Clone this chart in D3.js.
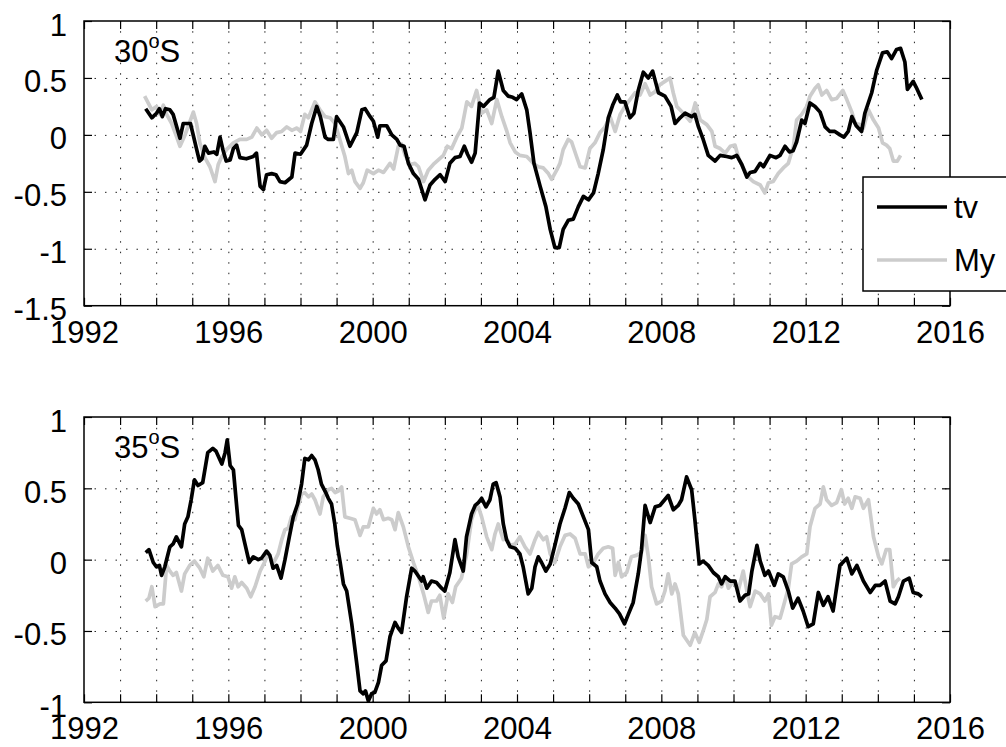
<!DOCTYPE html>
<meta charset="utf-8">
<style>
body { margin: 0; background: #fff; }
svg { font-family: "Liberation Sans", Arial, sans-serif; }
.grid line { stroke: #222; stroke-width: 1; stroke-dasharray: 1.5,9; }
.grid path { display: none; }
.axis path { display: none; }
.axis line { stroke: #000; stroke-width: 1.2; }
.axis text { font-size: 31px; fill: #000; }
.frame { fill: none; stroke: #000; stroke-width: 1.5; }
.tv { fill: none; stroke: #000; stroke-width: 3.7; stroke-linejoin: round; }
.my { fill: none; stroke: #cccccc; stroke-width: 3.7; stroke-linejoin: round; }
</style>
<body>
<svg width="1006" height="747"></svg>
<script src="https://d3js.org/d3.v7.min.js"></script>
<script>

// 30S panel
var tv30Years = [1993.71,1993.88,1994.01,1994.09,1994.17,1994.26,1994.38,1994.47,1994.66,1994.75,1994.95,1995.20,1995.27,1995.35,1995.45,1995.60,1995.68,1995.77,1995.85,1995.94,1996.05,1996.14,1996.23,1996.32,1996.50,1996.69,1996.78,1996.88,1996.97,1997.06,1997.20,1997.32,1997.43,1997.57,1997.76,1997.85,1998.00,1998.17,1998.31,1998.45,1998.55,1998.68,1998.77,1998.91,1999.00,1999.19,1999.37,1999.56,1999.70,1999.79,1999.93,2000.02,2000.14,2000.20,2000.39,2000.53,2000.67,2000.76,2000.87,2000.99,2001.13,2001.27,2001.45,2001.59,2001.73,2001.87,2002.01,2002.14,2002.28,2002.42,2002.54,2002.63,2002.74,2002.84,2002.96,2003.07,2003.25,2003.36,2003.48,2003.62,2003.76,2003.88,2003.99,2004.13,2004.27,2004.36,2004.47,2004.64,2004.80,2004.92,2005.05,2005.17,2005.28,2005.42,2005.56,2005.70,2005.84,2005.98,2006.12,2006.25,2006.39,2006.53,2006.65,2006.78,2006.87,2006.99,2007.13,2007.24,2007.36,2007.50,2007.64,2007.76,2007.92,2008.10,2008.27,2008.38,2008.52,2008.66,2008.84,2008.93,2009.03,2009.16,2009.30,2009.49,2009.63,2009.81,2009.95,2010.09,2010.23,2010.37,2010.46,2010.60,2010.74,2010.83,2011.01,2011.18,2011.29,2011.43,2011.55,2011.65,2011.75,2011.89,2011.98,2012.12,2012.26,2012.40,2012.54,2012.67,2012.81,2012.95,2013.06,2013.18,2013.28,2013.40,2013.55,2013.64,2013.83,2013.97,2014.13,2014.26,2014.38,2014.52,2014.63,2014.75,2014.82,2014.98,2015.06,2015.22];
var tv30 = [0.23,0.15,0.19,0.23,0.16,0.23,0.22,0.18,-0.03,0.10,0.10,-0.23,-0.21,-0.10,-0.16,-0.15,-0.17,-0.02,-0.13,-0.23,-0.22,-0.12,-0.09,-0.20,-0.21,-0.19,-0.16,-0.45,-0.48,-0.35,-0.34,-0.35,-0.41,-0.42,-0.37,-0.16,-0.17,-0.09,0.10,0.25,0.16,-0.02,-0.04,-0.04,0.16,0.07,-0.10,0.02,0.22,0.23,0.16,0.12,-0.02,0.08,0.08,0.00,-0.04,-0.09,-0.10,-0.25,-0.34,-0.39,-0.57,-0.44,-0.39,-0.35,-0.41,-0.25,-0.20,-0.19,-0.10,-0.17,-0.24,-0.16,0.28,0.25,0.31,0.33,0.56,0.39,0.34,0.33,0.31,0.36,0.22,0.02,-0.25,-0.45,-0.63,-0.83,-0.99,-0.99,-0.83,-0.75,-0.74,-0.63,-0.54,-0.57,-0.51,-0.34,-0.13,0.15,0.26,0.35,0.29,0.29,0.15,0.19,0.39,0.55,0.50,0.56,0.37,0.34,0.25,0.10,0.15,0.19,0.16,0.18,0.07,-0.04,-0.18,-0.23,-0.18,-0.19,-0.20,-0.18,-0.26,-0.37,-0.33,-0.32,-0.25,-0.28,-0.18,-0.20,-0.18,-0.10,-0.15,-0.14,-0.06,0.13,0.10,0.28,0.25,0.20,0.07,0.03,0.03,0.00,-0.02,0.03,0.16,0.08,0.03,0.19,0.37,0.57,0.72,0.73,0.67,0.75,0.76,0.64,0.40,0.47,0.42,0.31];

var my30Years = [1993.68,1993.88,1994.01,1994.10,1994.20,1994.29,1994.43,1994.57,1994.66,1994.80,1994.94,1995.03,1995.12,1995.21,1995.35,1995.49,1995.63,1995.72,1995.82,1995.95,1996.14,1996.32,1996.51,1996.65,1996.79,1996.93,1997.06,1997.20,1997.34,1997.48,1997.62,1997.76,1997.90,1998.00,1998.12,1998.22,1998.40,1998.54,1998.68,1998.82,1998.96,1999.09,1999.23,1999.33,1999.42,1999.51,1999.65,1999.74,1999.85,2000.02,2000.16,2000.30,2000.48,2000.58,2000.71,2000.80,2000.90,2001.04,2001.17,2001.27,2001.41,2001.54,2001.68,2001.82,2001.96,2002.07,2002.19,2002.33,2002.47,2002.61,2002.74,2002.88,2003.02,2003.16,2003.30,2003.44,2003.58,2003.71,2003.81,2003.95,2004.08,2004.27,2004.45,2004.59,2004.73,2004.87,2004.96,2005.10,2005.19,2005.28,2005.42,2005.51,2005.65,2005.75,2005.89,2006.02,2006.16,2006.30,2006.44,2006.58,2006.72,2006.86,2006.99,2007.13,2007.27,2007.41,2007.55,2007.69,2007.83,2007.96,2008.10,2008.24,2008.33,2008.43,2008.61,2008.80,2008.94,2009.08,2009.26,2009.40,2009.49,2009.63,2009.77,2009.91,2010.04,2010.16,2010.27,2010.41,2010.55,2010.74,2010.87,2010.97,2011.10,2011.24,2011.38,2011.52,2011.66,2011.75,2011.89,2012.03,2012.12,2012.26,2012.35,2012.45,2012.58,2012.72,2012.86,2013.03,2013.14,2013.28,2013.37,2013.51,2013.60,2013.74,2013.88,2014.02,2014.13,2014.24,2014.33,2014.43,2014.54,2014.63];
var my30 = [0.34,0.22,0.25,0.18,0.26,0.18,0.10,-0.02,-0.10,0.00,0.12,0.20,0.10,-0.07,-0.20,-0.28,-0.41,-0.26,-0.19,-0.13,-0.07,-0.04,-0.04,-0.02,0.06,0.00,0.04,-0.03,0.02,0.03,0.07,0.04,0.06,0.03,0.18,0.15,0.29,0.22,0.16,0.15,0.10,-0.04,-0.19,-0.34,-0.31,-0.41,-0.47,-0.42,-0.31,-0.34,-0.31,-0.33,-0.25,-0.30,-0.10,-0.08,-0.18,-0.26,-0.25,-0.28,-0.41,-0.31,-0.26,-0.22,-0.18,-0.10,-0.12,-0.02,0.06,0.29,0.25,0.39,0.19,0.22,0.10,0.31,0.16,0.04,-0.07,-0.15,-0.18,-0.19,-0.25,-0.28,-0.29,-0.34,-0.39,-0.31,-0.25,-0.13,-0.04,-0.06,-0.19,-0.28,-0.29,-0.12,-0.07,0.02,0.07,0.16,0.03,0.18,0.25,0.31,0.37,0.35,0.45,0.35,0.38,0.44,0.47,0.50,0.37,0.25,0.19,0.12,0.28,0.13,0.09,0.03,-0.10,-0.12,-0.16,-0.10,-0.09,-0.22,-0.29,-0.37,-0.41,-0.44,-0.51,-0.42,-0.41,-0.34,-0.29,-0.25,-0.10,0.13,0.18,0.25,0.34,0.41,0.44,0.35,0.39,0.31,0.32,0.39,0.31,0.20,0.10,0.09,0.06,0.22,0.13,0.06,-0.07,-0.09,-0.12,-0.23,-0.23,-0.18];

// 35S panel
var tv35Years = [1993.71,1993.80,1993.92,1994.01,1994.09,1994.15,1994.24,1994.38,1994.47,1994.56,1994.70,1994.79,1994.88,1994.97,1995.06,1995.16,1995.29,1995.43,1995.57,1995.66,1995.82,1995.91,1995.97,1996.05,1996.14,1996.28,1996.37,1996.46,1996.58,1996.69,1996.83,1996.92,1997.06,1997.15,1997.24,1997.34,1997.46,1997.57,1997.69,1997.80,1997.92,1998.03,1998.12,1998.22,1998.31,1998.40,1998.49,1998.58,1998.70,1998.77,1998.86,1998.95,1999.02,1999.10,1999.19,1999.28,1999.42,1999.56,1999.65,1999.74,1999.80,1999.88,1999.97,2000.06,2000.16,2000.25,2000.37,2000.48,2000.62,2000.71,2000.80,2000.94,2001.08,2001.17,2001.36,2001.40,2001.50,2001.63,2001.77,2001.91,2002.00,2002.14,2002.28,2002.37,2002.51,2002.60,2002.74,2002.84,2002.93,2003.02,2003.14,2003.25,2003.34,2003.42,2003.53,2003.62,2003.71,2003.81,2003.95,2004.08,2004.17,2004.31,2004.41,2004.50,2004.59,2004.68,2004.80,2004.92,2005.05,2005.19,2005.33,2005.45,2005.56,2005.70,2005.84,2005.98,2006.07,2006.21,2006.30,2006.44,2006.58,2006.72,2006.84,2006.98,2007.09,2007.22,2007.36,2007.45,2007.55,2007.69,2007.83,2007.96,2008.19,2008.33,2008.47,2008.56,2008.70,2008.84,2008.93,2009.05,2009.16,2009.30,2009.44,2009.58,2009.67,2009.77,2009.91,2010.04,2010.18,2010.32,2010.42,2010.51,2010.65,2010.74,2010.87,2010.97,2011.13,2011.24,2011.38,2011.52,2011.64,2011.79,2011.93,2012.07,2012.21,2012.35,2012.49,2012.62,2012.76,2012.95,2013.14,2013.28,2013.42,2013.60,2013.79,2013.93,2014.06,2014.20,2014.34,2014.48,2014.57,2014.71,2014.87,2014.98,2015.12,2015.22];
var tv35 = [0.05,0.07,-0.02,-0.05,-0.04,-0.11,-0.05,0.09,0.11,0.16,0.09,0.25,0.30,0.42,0.56,0.52,0.54,0.75,0.78,0.76,0.67,0.75,0.84,0.66,0.63,0.24,0.21,0.11,-0.02,0.02,0.00,0.01,0.06,0.03,-0.06,-0.04,-0.13,0.00,0.16,0.30,0.39,0.53,0.71,0.70,0.73,0.70,0.63,0.53,0.47,0.43,0.39,0.25,0.10,-0.02,-0.17,-0.22,-0.45,-0.73,-0.92,-0.94,-0.92,-0.99,-0.94,-0.93,-0.86,-0.74,-0.71,-0.54,-0.44,-0.48,-0.51,-0.26,-0.06,-0.08,-0.15,-0.12,-0.20,-0.15,-0.16,-0.20,-0.22,-0.09,0.14,0.02,-0.08,0.16,0.32,0.38,0.40,0.43,0.37,0.42,0.53,0.54,0.44,0.25,0.14,0.09,0.08,0.04,-0.05,-0.24,-0.20,-0.05,0.02,-0.02,-0.08,-0.03,0.10,0.25,0.36,0.47,0.43,0.39,0.30,0.21,-0.02,-0.05,-0.15,-0.24,-0.30,-0.34,-0.38,-0.45,-0.38,-0.30,-0.10,0.07,0.38,0.26,0.37,0.38,0.45,0.35,0.38,0.42,0.58,0.49,0.28,-0.03,-0.01,-0.04,-0.09,-0.12,-0.17,-0.12,-0.15,-0.15,-0.29,-0.25,-0.24,-0.08,0.10,-0.01,-0.11,-0.08,-0.18,-0.10,-0.12,-0.22,-0.34,-0.27,-0.36,-0.47,-0.45,-0.23,-0.32,-0.26,-0.36,-0.04,0.01,-0.10,-0.04,-0.15,-0.23,-0.18,-0.18,-0.15,-0.29,-0.31,-0.26,-0.15,-0.13,-0.23,-0.24,-0.26];

var my35Years = [1993.71,1993.80,1993.88,1993.97,1994.11,1994.20,1994.29,1994.38,1994.47,1994.56,1994.70,1994.79,1994.93,1995.06,1995.21,1995.32,1995.43,1995.57,1995.71,1995.85,1995.99,1996.09,1996.18,1996.27,1996.37,1996.51,1996.62,1996.74,1996.88,1997.02,1997.11,1997.24,1997.38,1997.48,1997.57,1997.66,1997.75,1997.84,1997.94,1998.03,1998.12,1998.22,1998.31,1998.40,1998.54,1998.63,1998.77,1998.86,1998.96,1999.05,1999.14,1999.23,1999.37,1999.51,1999.65,1999.74,1999.88,2000.02,2000.11,2000.20,2000.30,2000.43,2000.53,2000.62,2000.71,2000.85,2000.99,2001.13,2001.27,2001.41,2001.54,2001.63,2001.77,2001.86,2001.97,2002.09,2002.21,2002.30,2002.46,2002.60,2002.74,2002.84,2002.93,2003.02,2003.16,2003.30,2003.39,2003.48,2003.62,2003.71,2003.81,2003.95,2004.08,2004.22,2004.36,2004.50,2004.59,2004.73,2004.82,2004.92,2005.05,2005.19,2005.33,2005.47,2005.61,2005.75,2005.89,2005.98,2006.12,2006.25,2006.39,2006.53,2006.65,2006.72,2006.81,2006.90,2007.04,2007.17,2007.31,2007.45,2007.55,2007.64,2007.73,2007.87,2008.01,2008.10,2008.19,2008.29,2008.38,2008.47,2008.61,2008.80,2008.93,2009.05,2009.16,2009.26,2009.35,2009.49,2009.58,2009.67,2009.77,2009.86,2010.00,2010.13,2010.27,2010.37,2010.46,2010.60,2010.74,2010.87,2010.97,2011.05,2011.15,2011.29,2011.38,2011.52,2011.61,2011.75,2011.89,2012.03,2012.12,2012.26,2012.40,2012.49,2012.58,2012.72,2012.86,2012.99,2013.08,2013.18,2013.28,2013.37,2013.51,2013.60,2013.74,2013.88,2014.02,2014.11,2014.23,2014.33,2014.43,2014.52,2014.61];
var my35 = [-0.29,-0.27,-0.19,-0.33,-0.31,-0.31,-0.04,-0.08,-0.11,-0.09,-0.22,-0.10,-0.04,-0.01,-0.06,-0.12,0.01,-0.08,-0.04,-0.11,-0.12,-0.20,-0.12,-0.19,-0.16,-0.20,-0.26,-0.19,-0.08,-0.01,0.05,-0.03,0.04,0.14,0.21,0.22,0.30,0.28,0.38,0.46,0.47,0.44,0.46,0.42,0.32,0.44,0.49,0.50,0.47,0.48,0.51,0.30,0.29,0.28,0.17,0.23,0.23,0.36,0.32,0.35,0.28,0.29,0.28,0.21,0.33,0.23,0.09,-0.02,-0.12,-0.24,-0.37,-0.29,-0.29,-0.25,-0.41,-0.24,-0.30,-0.19,-0.13,0.03,0.28,0.35,0.37,0.30,0.16,0.07,0.18,0.25,0.14,0.15,0.10,0.11,0.16,0.09,0.04,0.14,0.19,0.14,0.16,0.04,-0.02,0.09,0.17,0.18,0.15,0.04,0.04,-0.05,-0.02,0.04,0.08,0.09,0.08,-0.11,-0.02,-0.12,-0.09,0.02,0.03,0.05,0.17,0.02,-0.19,-0.31,-0.29,-0.22,-0.10,-0.24,-0.17,-0.24,-0.53,-0.60,-0.51,-0.58,-0.50,-0.42,-0.26,-0.23,-0.17,-0.19,-0.12,-0.20,-0.15,-0.22,-0.08,-0.22,-0.33,-0.22,-0.24,-0.29,-0.24,-0.46,-0.40,-0.41,-0.33,-0.20,-0.03,-0.01,0.02,0.04,0.23,0.36,0.39,0.51,0.42,0.38,0.40,0.49,0.39,0.43,0.36,0.44,0.43,0.36,0.42,0.16,0.02,-0.03,0.07,0.07,-0.19,-0.15,-0.13];

var yearTicks = d3.range(1992, 2017);
var ticks30 = [-1.5, -1, -0.5, 0, 0.5, 1];
var ticks35 = [-1, -0.5, 0, 0.5, 1];
var seriesNames = ["tv", "My"];

var svg = d3.select("svg");
var left = 84, right = 950;

var x = d3.scaleLinear().domain([1992, 2016]).range([left, right]);

function zip(xs, ys) {
  return xs.map(function(d, i) { return [d, ys[i]]; });
}

function panel(top, bottom, yTicks, tvData, myData, latLabel) {
  var y = d3.scaleLinear().domain([yTicks[0], yTicks[yTicks.length - 1]]).range([bottom, top]);
  var g = svg.append("g");
  var h = bottom - top;

  // dotted grid
  g.append("g").attr("class", "grid")
      .attr("transform", "translate(0," + bottom + ")")
      .call(d3.axisBottom(x).tickValues(yearTicks.slice(1, -1)).tickSize(-h).tickFormat(""));
  g.append("g").attr("class", "grid")
      .attr("transform", "translate(" + left + ",0)")
      .call(d3.axisLeft(y).tickValues(yTicks.slice(1, -1)).tickSize(-(right - left)).tickFormat(""));

  var line = d3.line()
      .x(function(d) { return x(d[0]); })
      .y(function(d) { return y(d[1]); });

  g.append("path").datum(myData).attr("class", "my").attr("d", line);
  g.append("path").datum(tvData).attr("class", "tv").attr("d", line);

  // inward ticks on all sides
  g.append("g").attr("class", "axis")
      .attr("transform", "translate(0," + bottom + ")")
      .call(d3.axisBottom(x).tickValues(yearTicks).tickSize(-8).tickPadding(14)
        .tickFormat(function(d) { return d % 4 === 0 ? d : ""; }))
      .selectAll("text").attr("dy", null).attr("y", 37);
  g.append("g").attr("class", "axis")
      .attr("transform", "translate(0," + top + ")")
      .call(d3.axisTop(x).tickValues(yearTicks).tickSize(-8).tickFormat(""));
  g.append("g").attr("class", "axis")
      .attr("transform", "translate(" + left + ",0)")
      .call(d3.axisLeft(y).tickValues(yTicks).tickSize(-8).tickFormat(function(d) { return String(d); }))
      .selectAll("text").attr("x", -17).attr("dy", null).attr("y", 14);
  g.append("g").attr("class", "axis")
      .attr("transform", "translate(" + right + ",0)")
      .call(d3.axisRight(y).tickValues(yTicks).tickSize(-8).tickFormat(""));

  g.append("rect").attr("class", "frame")
      .attr("x", left).attr("y", top)
      .attr("width", right - left).attr("height", h);

  var t = g.append("text")
      .attr("x", left + 30).attr("y", top + 41)
      .style("font-size", "31px");
  t.append("tspan").text(latLabel);
  t.append("tspan").attr("dy", -14).style("font-size", "20px").text("o");
  t.append("tspan").attr("dy", 14).text("S");
  return g;
}

panel(21, 305.7, ticks30, zip(tv30Years, tv30), zip(my30Years, my30), "30");
panel(417, 702.3, ticks35, zip(tv35Years, tv35), zip(my35Years, my35), "35");

// legend
var leg = svg.append("g").attr("transform", "translate(863,177)");
leg.append("rect").attr("width", 160).attr("height", 114)
    .attr("fill", "#fff").attr("stroke", "#000").attr("stroke-width", 1.5);
leg.selectAll("line.k").data(seriesNames).enter().append("line")
    .attr("x1", 14).attr("x2", 84)
    .attr("y1", function(d, i) { return 30 + i * 53; })
    .attr("y2", function(d, i) { return 30 + i * 53; })
    .attr("stroke", function(d, i) { return i === 0 ? "#000" : "#cccccc"; })
    .attr("stroke-width", 3.7);
leg.selectAll("text").data(seriesNames).enter().append("text")
    .attr("x", 91)
    .attr("y", function(d, i) { return 41 + i * 53; })
    .style("font-size", "31px")
    .text(function(d) { return d; });

</script>
</body>
